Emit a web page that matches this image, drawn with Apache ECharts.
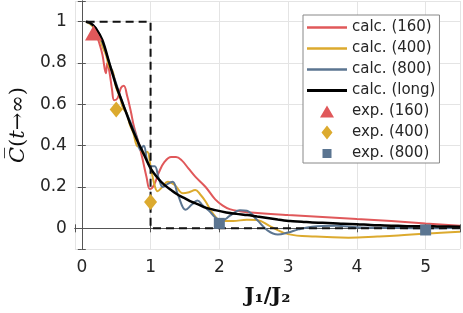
<!DOCTYPE html>
<html><head><meta charset="utf-8">
<script src="https://cdn.jsdelivr.net/npm/echarts@6/dist/echarts.min.js"></script>
<style>html,body{margin:0;padding:0;background:#fff}#c{width:463px;height:313px}</style>
</head><body><div id="c"></div>
<script>
// ---- data ----
const calc160 = [[0.17,0.96],[0.22,0.93],[0.26,0.89],[0.3,0.84],[0.35,0.75],[0.37,0.80],[0.4,0.76],[0.44,0.67],[0.47,0.62],[0.52,0.63],[0.57,0.68],[0.61,0.69],[0.66,0.64],[0.71,0.57],[0.76,0.49],[0.82,0.42],[0.88,0.34],[0.94,0.25],[0.99,0.19],[1.05,0.21],[1.12,0.27],[1.2,0.32],[1.3,0.345],[1.37,0.345],[1.45,0.33],[1.55,0.29],[1.65,0.25],[1.8,0.2],[1.94,0.14],[2.05,0.11],[2.15,0.093],[2.3,0.083],[2.51,0.075],[3.0,0.064],[3.5,0.055],[4.0,0.045],[4.5,0.035],[5.0,0.023],[5.5,0.012]];
const calc400 = [[0.06,1.0],[0.15,0.98],[0.25,0.93],[0.3,0.88],[0.35,0.84],[0.4,0.78],[0.45,0.76],[0.5,0.68],[0.55,0.64],[0.6,0.58],[0.65,0.56],[0.7,0.5],[0.75,0.46],[0.8,0.4],[0.85,0.39],[0.9,0.36],[0.95,0.37],[1.0,0.3],[1.05,0.22],[1.1,0.18],[1.17,0.2],[1.25,0.225],[1.35,0.21],[1.47,0.17],[1.56,0.175],[1.65,0.185],[1.72,0.165],[1.8,0.13],[1.9,0.075],[2.03,0.035],[2.2,0.035],[2.4,0.042],[2.55,0.04],[2.75,0.008],[3.0,-0.028],[3.4,-0.04],[3.88,-0.045],[4.3,-0.04],[4.6,-0.035],[5.0,-0.025],[5.5,-0.016]];
const calc800 = [[0.06,1.0],[0.2,0.97],[0.3,0.9],[0.4,0.8],[0.5,0.7],[0.6,0.6],[0.7,0.52],[0.8,0.44],[0.85,0.38],[0.9,0.4],[0.95,0.33],[1.0,0.3],[1.06,0.3],[1.12,0.24],[1.18,0.2],[1.25,0.215],[1.32,0.225],[1.4,0.16],[1.51,0.09],[1.6,0.115],[1.68,0.135],[1.76,0.11],[1.85,0.085],[1.95,0.05],[2.05,0.04],[2.15,0.06],[2.3,0.088],[2.4,0.085],[2.55,0.04],[2.7,-0.01],[2.85,-0.03],[3.0,-0.02],[3.15,-0.005],[3.35,0.008],[3.7,0.012],[4.0,0.005],[4.5,0.002],[5.0,0.0],[5.5,0.003]];
const calcLong = [[0.06,1.0],[0.12,0.995],[0.2,0.97],[0.3,0.91],[0.4,0.8],[0.5,0.69],[0.6,0.6],[0.7,0.51],[0.8,0.43],[0.9,0.36],[1.0,0.29],[1.1,0.245],[1.2,0.21],[1.3,0.185],[1.41,0.16],[1.5,0.145],[1.6,0.128],[1.7,0.115],[1.8,0.1],[1.94,0.088],[2.1,0.077],[2.25,0.07],[2.41,0.064],[2.55,0.057],[2.7,0.05],[2.85,0.043],[3.03,0.035],[3.2,0.032],[3.35,0.028],[3.5,0.027],[3.65,0.025],[3.8,0.022],[4.0,0.02],[4.2,0.016],[4.4,0.014],[4.6,0.012],[4.78,0.01],[5.0,0.011],[5.2,0.009],[5.5,0.008]];
const stepRef = [[0.07,1],[1,1],[1,0],[5.5,0]];
const exp160 = [[0.17,0.945]];
const exp400 = [[0.5,0.575],[1.0,0.128]];
const exp800 = [[2.0,0.024],[5.0,-0.008]];
const names = ['calc. (160)','calc. (400)','calc. (800)','calc. (long)','exp. (160)','exp. (400)','exp. (800)'];
const colors = ['#e0585a','#dcaa2e','#5b7591','#000000'];

const lineIcon = 'path://M0 0H40V2.4H0Z';
const legendIcons = [lineIcon, lineIcon, lineIcon,
  'path://M0 0H40V2.8H0Z',
  'path://M0 0L0.01 0Z M16 14L15.99 14Z M1 13L8 1L15 13Z',
  'path://M0 0L0.01 0Z M14 14L13.99 14Z M7 0L12.5 7L7 14L1.5 7Z',
  'path://M0 0L0.01 0Z M14 14L13.99 14Z M2.5 2.5H11.5V11.5H2.5Z'];

const chart = echarts.init(document.getElementById('c'));
const fmtY = v => (v < -0.05 || v > 1.05) ? '' : String(+v.toFixed(1));
const fmtX = v => (v < -0.05 || v > 5.45) ? '' : String(Math.round(v));
const axLine = {show:true, lineStyle:{color:'#555', width:1}};
const gridLine = {show:true, lineStyle:{color:'#e4e4e4', width:1}};
const lbl = {color:'#262626', fontFamily:'DejaVu Sans', fontSize:17};
chart.setOption({
  animation:false,
  grid:{left:67, right:2, top:1, bottom:64, containLabel:false},
  xAxis:[{type:'value', min:-0.1, max:5.5, splitNumber:5,
    axisLine:axLine, axisTick:{show:true, inside:true, length:4, lineStyle:{color:'#555'}},
    splitLine:gridLine, axisLabel:Object.assign({formatter:fmtX, margin:10}, lbl),
    name:'J₁/J₂', nameLocation:'middle', nameGap:37,
    nameTextStyle:{fontFamily:'DejaVu Serif', fontWeight:'bold', fontSize:21, color:'#111'}},
   {type:'value', position:'top', min:-0.1, max:5.5, splitNumber:5,
    axisLine:axLine, axisTick:{show:true, inside:true, length:4, lineStyle:{color:'#555'}},
    splitLine:{show:false}, axisLabel:{show:false}}],
  yAxis:[{type:'value', min:-0.1, max:1.1, splitNumber:6,
    axisLine:axLine, axisTick:{show:true, inside:true, length:4, lineStyle:{color:'#555'}},
    splitLine:gridLine, axisLabel:Object.assign({formatter:fmtY, margin:8}, lbl),
    name:'{i|C\u0305}{n|(}{i|t}{n|→∞)}', nameLocation:'middle', nameGap:40,
    nameTextStyle:{rich:{i:{fontFamily:'DejaVu Serif', fontStyle:'italic', fontSize:21, color:'#111'},
                         n:{fontFamily:'DejaVu Serif', fontSize:21, color:'#111'}}}},
   {type:'value', position:'right', min:-0.1, max:1.1, splitNumber:6,
    axisLine:axLine, axisTick:{show:true, inside:true, length:4, lineStyle:{color:'#555'}},
    splitLine:{show:false}, axisLabel:{show:false}}],
  legend:{data:names.map((n,i)=>({name:n, icon:legendIcons[i]})), orient:'vertical', left:303, top:15, padding:[5,4,2,4],
    itemWidth:40, itemHeight:14, itemGap:6, backgroundColor:'#fff',
    borderColor:'#888', borderWidth:1, borderRadius:0,
    textStyle:{fontFamily:'DejaVu Sans', fontSize:15, lineHeight:14, color:'#262626'}},
  series:[
    {name:names[0], type:'line', data:calc160, symbol:'none', smooth:0.4, color:colors[0], lineStyle:{width:2}, z:2},
    {name:names[1], type:'line', data:calc400, symbol:'none', smooth:0.4, color:colors[1], lineStyle:{width:2}, z:2},
    {name:names[2], type:'line', data:calc800, symbol:'none', smooth:0.4, color:colors[2], lineStyle:{width:2}, z:2},
    {name:names[3], type:'line', data:calcLong, symbol:'none', smooth:0.3, color:colors[3], lineStyle:{width:2.5}, z:3},
    {name:'step', type:'line', data:stepRef, symbol:'none', color:'#111', lineStyle:{width:2, type:[8,5]}, z:4},
    {name:names[4], type:'scatter', data:exp160, symbol:'triangle', symbolSize:[17,15], color:colors[0], itemStyle:{opacity:1}, z:5},
    {name:names[5], type:'scatter', data:exp400, symbol:'diamond', symbolSize:[13,16], color:colors[1], itemStyle:{opacity:1}, z:5},
    {name:names[6], type:'scatter', data:exp800, symbol:'rect', symbolSize:11, color:colors[2], itemStyle:{opacity:1}, z:5}
  ]
});
</script></body></html>
